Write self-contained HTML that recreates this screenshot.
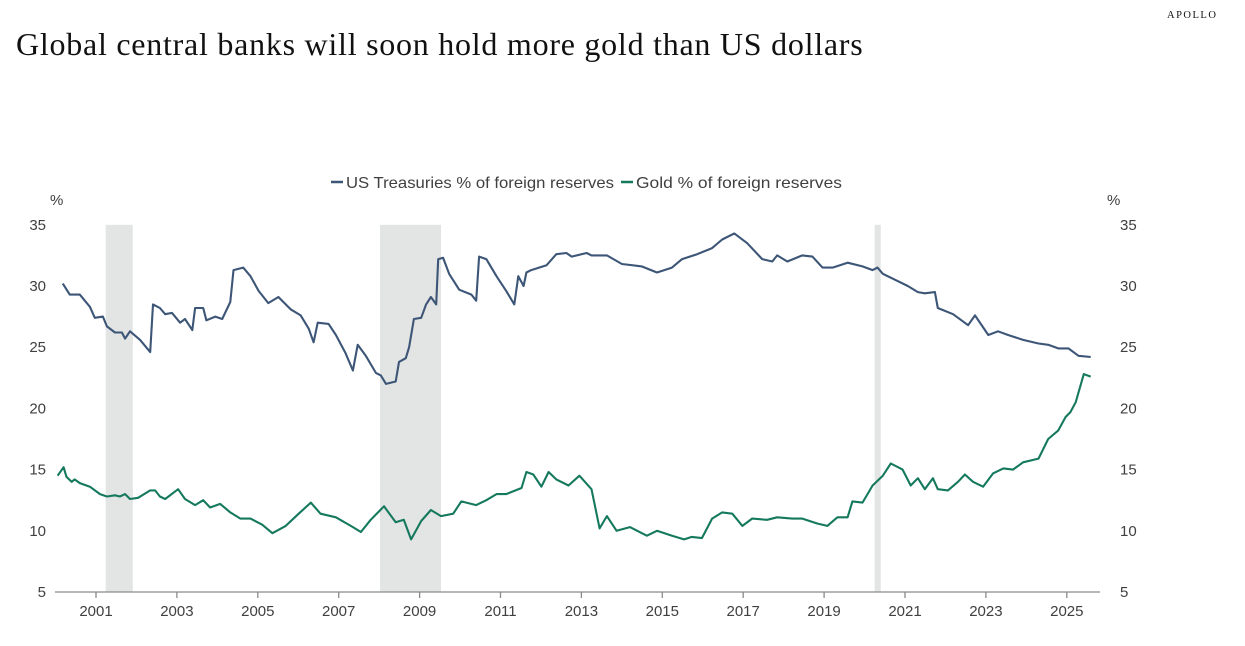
<!DOCTYPE html>
<html><head><meta charset="utf-8">
<style>
body{margin:0;background:#fff;width:1245px;height:646px;overflow:hidden;font-family:"Liberation Sans",sans-serif}
#title{position:absolute;left:16px;top:26px;font-family:"Liberation Serif",serif;font-size:32px;color:#111;letter-spacing:0.75px;white-space:nowrap}
#brand{position:absolute;left:1167px;top:10px;font-family:"Liberation Serif",serif;font-size:10.5px;letter-spacing:1.5px;color:#111}
svg{position:absolute;left:0;top:0}
text{font-family:"Liberation Sans",sans-serif;fill:#404040}
</style></head><body>
<div id="brand">APOLLO</div>
<div id="title">Global central banks will soon hold more gold than US dollars</div>
<svg id="chart" width="1245" height="646"></svg>
<script>
const tsyYears=[2000.18,2000.35,2000.6,2000.85,2000.97,2001.17,2001.27,2001.47,2001.64,2001.72,2001.84,2002.09,2002.34,2002.41,2002.58,2002.71,2002.88,2003.08,2003.2,2003.38,2003.45,2003.65,2003.73,2003.95,2004.12,2004.32,2004.4,2004.64,2004.82,2005.02,2005.26,2005.51,2005.81,2006.06,2006.26,2006.38,2006.48,2006.75,2006.93,2007.17,2007.35,2007.47,2007.67,2007.92,2008.04,2008.17,2008.41,2008.49,2008.66,2008.74,2008.86,2009.04,2009.16,2009.28,2009.41,2009.46,2009.58,2009.73,2009.98,2010.28,2010.4,2010.47,2010.65,2010.9,2011.14,2011.34,2011.44,2011.57,2011.64,2011.76,2012.14,2012.38,2012.63,2012.76,2013.13,2013.25,2013.63,2014.0,2014.49,2014.87,2015.24,2015.49,2015.86,2016.23,2016.48,2016.78,2017.1,2017.47,2017.72,2017.84,2018.09,2018.46,2018.71,2018.96,2019.21,2019.58,2019.95,2020.2,2020.32,2020.45,2020.82,2021.07,2021.32,2021.49,2021.74,2021.81,2022.19,2022.56,2022.73,2023.06,2023.3,2023.55,2023.92,2024.3,2024.54,2024.79,2025.04,2025.29,2025.59];
const tsyValues=[30.2,29.3,29.3,28.3,27.4,27.5,26.7,26.2,26.2,25.7,26.3,25.6,24.6,28.5,28.2,27.7,27.8,27.0,27.3,26.4,28.2,28.2,27.2,27.5,27.3,28.7,31.3,31.5,30.8,29.6,28.6,29.1,28.1,27.6,26.5,25.4,27.0,26.9,26.0,24.5,23.1,25.2,24.3,22.9,22.7,22.0,22.2,23.8,24.1,25.0,27.3,27.4,28.5,29.1,28.5,32.2,32.3,31.0,29.7,29.3,28.8,32.4,32.2,30.8,29.6,28.5,30.8,30.0,31.1,31.3,31.7,32.6,32.7,32.4,32.7,32.5,32.5,31.8,31.6,31.1,31.5,32.2,32.6,33.1,33.8,34.3,33.5,32.2,32.0,32.5,32.0,32.5,32.4,31.5,31.5,31.9,31.6,31.3,31.5,31.0,30.4,30.0,29.5,29.4,29.5,28.2,27.7,26.8,27.6,26.0,26.3,26.0,25.6,25.3,25.2,24.9,24.9,24.3,24.2];
const goldYears=[2000.05,2000.2,2000.27,2000.4,2000.47,2000.6,2000.85,2001.1,2001.27,2001.47,2001.59,2001.72,2001.84,2002.04,2002.34,2002.46,2002.58,2002.71,2003.03,2003.2,2003.45,2003.65,2003.82,2004.07,2004.32,2004.57,2004.82,2005.11,2005.36,2005.69,2006.01,2006.31,2006.55,2006.93,2007.3,2007.55,2007.79,2008.12,2008.41,2008.61,2008.79,2009.04,2009.28,2009.53,2009.83,2010.03,2010.4,2010.65,2010.9,2011.14,2011.52,2011.64,2011.81,2012.01,2012.19,2012.38,2012.68,2012.95,2013.25,2013.45,2013.63,2013.87,2014.2,2014.62,2014.87,2015.24,2015.54,2015.73,2015.98,2016.23,2016.48,2016.73,2016.98,2017.22,2017.59,2017.84,2018.21,2018.46,2018.83,2019.08,2019.33,2019.58,2019.7,2019.95,2020.2,2020.45,2020.65,2020.94,2021.14,2021.32,2021.49,2021.69,2021.81,2022.06,2022.31,2022.48,2022.68,2022.93,2023.18,2023.43,2023.67,2023.92,2024.3,2024.54,2024.79,2024.97,2025.09,2025.22,2025.29,2025.42,2025.59];
const goldValues=[14.5,15.2,14.4,14.0,14.2,13.9,13.6,13.0,12.8,12.9,12.8,13.0,12.6,12.7,13.3,13.3,12.8,12.6,13.4,12.6,12.1,12.5,11.9,12.2,11.5,11.0,11.0,10.5,9.8,10.4,11.4,12.3,11.4,11.1,10.4,9.9,10.9,12.0,10.7,10.9,9.3,10.8,11.7,11.2,11.4,12.4,12.1,12.5,13.0,13.0,13.5,14.8,14.6,13.6,14.8,14.2,13.7,14.5,13.4,10.2,11.2,10.0,10.3,9.6,10.0,9.6,9.3,9.5,9.4,11.0,11.5,11.4,10.4,11.0,10.9,11.1,11.0,11.0,10.6,10.4,11.1,11.1,12.4,12.3,13.7,14.5,15.5,15.0,13.7,14.3,13.4,14.3,13.4,13.3,14.0,14.6,14.0,13.6,14.7,15.1,15.0,15.6,15.9,17.5,18.2,19.3,19.7,20.5,21.3,22.8,22.6];
const recessionStarts=[2001.24,2008.02,2020.25];
const recessionEnds=[2001.91,2009.53,2020.4];
const yTicks=[5,10,15,20,25,30,35];
const xTicks=[2001,2003,2005,2007,2009,2011,2013,2015,2017,2019,2021,2023,2025];

const svg=document.getElementById('chart');
const NS='http://www.w3.org/2000/svg';
const x=yr=>96+(yr-2001)*40.45;
const y=v=>592-(v-5)*12.24;
function mk(tag,attrs,parent){const e=document.createElementNS(NS,tag);for(const k in attrs)e.setAttribute(k,attrs[k]);(parent||svg).appendChild(e);return e;}

recessionStarts.forEach((s,i)=>{
  const r=mk('rect',{x:x(s),y:y(35),width:x(recessionEnds[i])-x(s),height:y(5)-y(35),fill:'#e3e4e4'});
  
  
});
const ax=mk('line',{x1:55,x2:1100,y1:y(5),y2:y(5),stroke:'#8a8a8a','stroke-width':1.3});


xTicks.forEach(t=>{
  const tk=mk('line',{x1:x(t),x2:x(t),y1:y(5),y2:y(5)+6,stroke:'#8a8a8a','stroke-width':1.3});
  
  
  const tl=mk('text',{x:x(t),y:y(5)+24,'text-anchor':'middle','font-size':15});
  tl.textContent=t;
  
  
});
yTicks.forEach(t=>{
  const l=mk('text',{x:46,y:y(t)+5,'text-anchor':'end','font-size':15});
  l.textContent=t;
  
  
  const r=mk('text',{x:1120,y:y(t)+5,'text-anchor':'start','font-size':15});
  r.textContent=t;
  
  
});
const pl=mk('text',{x:50,y:205,'font-size':15});pl.textContent='%';


const pr=mk('text',{x:1107,y:205,'font-size':15});pr.textContent='%';



function line(xs,vs,color,name){
  const d=xs.map((t,i)=>(i?'L':'M')+x(t).toFixed(1)+','+y(vs[i]).toFixed(1)).join('');
  const p=mk('path',{d:d,fill:'none',stroke:color,'stroke-width':2.1,'stroke-linejoin':'round'});
  
  
}
line(tsyYears,tsyValues,'#3d5677','treasuries-line');
line(goldYears,goldValues,'#15795d','gold-line');

const lg=mk('g',{});


const l1=mk('line',{x1:331,x2:343,y1:182,y2:182,stroke:'#3d5677','stroke-width':2.5},lg);


const t1=mk('text',{x:346,y:188,'font-size':16,textLength:268,lengthAdjust:'spacingAndGlyphs'},lg);t1.textContent='US Treasuries % of foreign reserves';


const l2=mk('line',{x1:621,x2:633,y1:182,y2:182,stroke:'#15795d','stroke-width':2.5},lg);


const t2=mk('text',{x:636,y:188,'font-size':16,textLength:206,lengthAdjust:'spacingAndGlyphs'},lg);t2.textContent='Gold % of foreign reserves';


</script>
</body></html>
